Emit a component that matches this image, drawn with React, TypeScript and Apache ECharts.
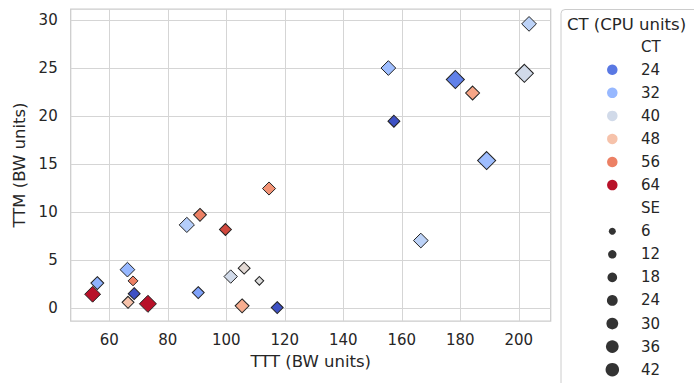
import React, { useEffect, useRef } from "react";
import * as echarts from "echarts";

// ---- data ----
const TTT = [55.9, 54.3, 66.2, 68.1, 68.5, 66.4, 73.2, 114.6, 91.0, 86.5, 99.7, 106.1, 101.5, 111.3, 90.4, 105.4, 117.4, 203.5, 201.9, 178.3, 184.2, 155.4, 157.3, 189.0, 166.5];
const TTM = [2.6, 1.44, 4.0, 2.83, 1.5, 0.6, 0.44, 12.45, 9.71, 8.66, 8.18, 4.15, 3.28, 2.83, 1.61, 0.23, 0.05, 29.6, 24.45, 23.8, 22.4, 25.0, 19.46, 15.36, 7.03];
const CT = [31, 64, 32, 56, 20, 48, 64, 54, 56, 36, 61, 43, 40, 42, 29, 51, 20, 37, 40, 25, 52, 33, 20, 33, 37];
const SE = [15, 27, 22, 6, 12, 12, 32, 16, 15, 24, 12, 12, 17, 3, 12, 19, 12, 22, 37, 37, 19, 22, 12, 37, 22];

const X_TICKS = [60, 80, 100, 120, 140, 160, 180, 200];
const Y_TICKS = [0, 5, 10, 15, 20, 25, 30];
const CT_LEGEND = [24, 32, 40, 48, 56, 64];
const SE_LEGEND = [6, 12, 18, 24, 30, 36, 42];

const CT_NORM: [number, number] = [19.5, 64.5];

// Moreland coolwarm table
const COOLWARM: number[][] = [
  [59, 76, 192], [68, 90, 204], [77, 104, 215], [87, 117, 225], [98, 130, 234],
  [108, 142, 241], [119, 154, 247], [130, 165, 251], [141, 176, 254], [152, 185, 255],
  [163, 194, 255], [174, 201, 253], [184, 208, 249], [194, 213, 244], [204, 217, 238],
  [213, 219, 230], [221, 221, 221], [229, 216, 209], [236, 211, 197], [241, 204, 184],
  [245, 196, 173], [247, 187, 160], [247, 177, 148], [247, 166, 135], [244, 154, 123],
  [241, 141, 111], [236, 127, 99], [229, 112, 88], [222, 96, 77], [213, 80, 66],
  [203, 62, 56], [192, 40, 47], [180, 4, 38],
];

function coolwarm(t: number): string {
  const tt = Math.max(0, Math.min(1, t)) * (COOLWARM.length - 1);
  const i = Math.min(COOLWARM.length - 2, Math.floor(tt));
  const f = tt - i;
  const a = COOLWARM[i];
  const b = COOLWARM[i + 1];
  const c = a.map((v, k) => Math.round(v + (b[k] - v) * f));
  return `rgb(${c[0]},${c[1]},${c[2]})`;
}
const ctColor = (v: number) => coolwarm((v - CT_NORM[0]) / (CT_NORM[1] - CT_NORM[0]));
const circleDiam = (se: number) => Math.sqrt(Math.max(16, 49 + (se - 6) * 3.7));
const diamondSize = (se: number) => circleDiam(se) * 1.414;

const FONT = "DejaVu Sans";
const TEXT = "#262626";

export default function App() {
  const ref = useRef<HTMLDivElement>(null);
  useEffect(() => {
    if (!ref.current) return;
    const chart = echarts.init(ref.current, undefined, { renderer: "svg" });

    const data = TTT.map((x, i) => ({
      value: [x, TTM[i], CT[i], SE[i]],
      symbolSize: diamondSize(SE[i]),
      itemStyle: { color: ctColor(CT[i]) },
    }));

    const legendX = 612.3;
    const labelX = 641;
    const row0 = 46.7;
    const rowH = 23.07;
    const graphics: any[] = [
      {
        type: "rect",
        shape: { x: 561, y: 9.5, width: 200, height: 420, r: 4 },
        style: { fill: "#ffffff", stroke: "#cccccc", lineWidth: 1 },
        z: 10,
      },
      {
        type: "text",
        x: 567,
        y: 24,
        style: { text: "CT (CPU units)", fontSize: 16.5, fontFamily: FONT, fill: TEXT, verticalAlign: "middle", align: "left" },
        z: 11,
      },
    ];
    const rows: { label: string; color?: string; d?: number }[] = [];
    rows.push({ label: "CT" });
    CT_LEGEND.forEach((v) => rows.push({ label: String(v), color: ctColor(v), d: 10.5 }));
    rows.push({ label: "SE" });
    SE_LEGEND.forEach((v) => rows.push({ label: String(v), color: "#333333", d: circleDiam(v) }));
    rows.forEach((r, i) => {
      const y = row0 + rowH * i;
      graphics.push({
        type: "text",
        x: labelX,
        y,
        style: { text: r.label, fontSize: 15, fontFamily: FONT, fill: TEXT, verticalAlign: "middle", align: "left" },
        z: 11,
      });
      if (r.color) {
        graphics.push({
          type: "circle",
          shape: { cx: legendX, cy: y, r: (r.d as number) / 2 },
          style: { fill: r.color },
          z: 11,
        });
      }
    });

    chart.setOption({
      animation: false,
      backgroundColor: "#ffffff",
      textStyle: { fontFamily: FONT },
      grid: {
        left: 70.7,
        right: 694 - 550.7,
        top: 9,
        bottom: 383 - 321,
        show: true,
        borderColor: "#cccccc",
        borderWidth: 1.25,
        backgroundColor: "#ffffff",
        containLabel: false,
      },
      xAxis: {
        type: "value",
        min: 46.8,
        max: 210.9,
        name: "TTT (BW units)",
        nameLocation: "middle",
        nameGap: 32,
        nameTextStyle: { fontSize: 16.5, color: TEXT, fontFamily: FONT },
        axisLine: { show: false },
        axisTick: { show: false, customValues: X_TICKS },
        axisLabel: { customValues: X_TICKS, fontSize: 15, color: TEXT, margin: 11, fontFamily: FONT },
        splitLine: { show: true, lineStyle: { color: "#d5d5d5", width: 1 } },
      },
      yAxis: {
        type: "value",
        min: -1.35,
        max: 31.15,
        name: "TTM (BW units)",
        nameLocation: "middle",
        nameGap: 38,
        nameRotate: 90,
        nameTextStyle: { fontSize: 16.5, color: TEXT, fontFamily: FONT },
        axisLine: { show: false },
        axisTick: { show: false, customValues: Y_TICKS },
        axisLabel: { customValues: Y_TICKS, fontSize: 15, color: TEXT, margin: 13, fontFamily: FONT },
        splitLine: { show: true, lineStyle: { color: "#d5d5d5", width: 1 } },
      },
      series: [
        {
          type: "scatter",
          symbol: "diamond",
          data,
          itemStyle: { borderColor: "#222222", borderWidth: 1, opacity: 1 },
          emphasis: { disabled: true },
        },
      ],
      graphic: graphics,
    });
    return () => chart.dispose();
  }, []);
  return (
    <div
      ref={ref}
      style={{ position: "fixed", left: 0, top: 0, width: 694, height: 383 }}
    />
  );
}
